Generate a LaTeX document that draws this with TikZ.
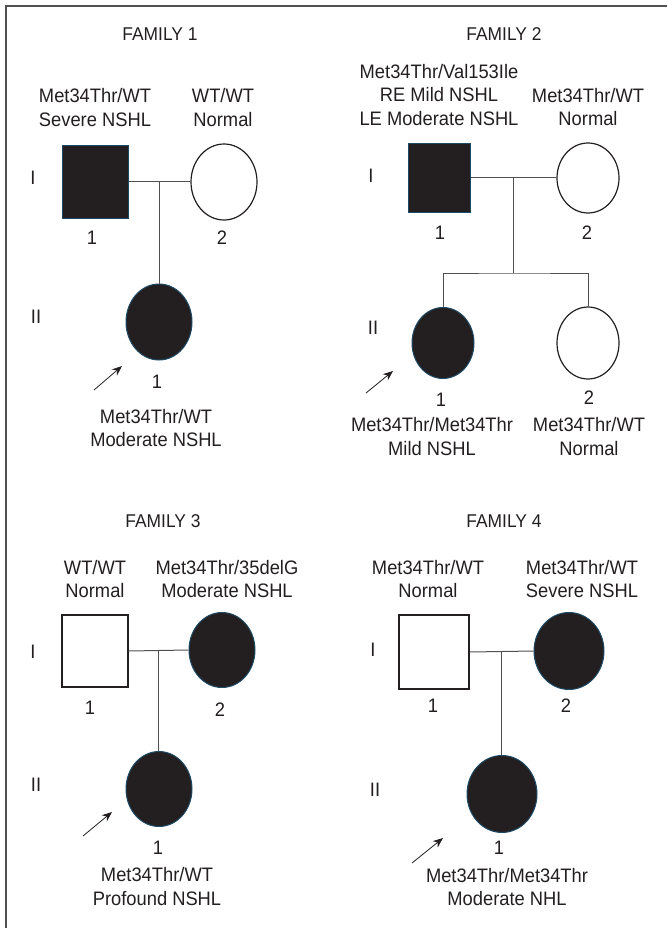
\documentclass[tikz,border=0pt]{standalone}
\usepackage{fontspec}
\setmainfont{Liberation Sans}[FakeStretch=0.94]
\usetikzlibrary{shapes.geometric,arrows.meta,calc}
\definecolor{txt}{HTML}{231F20}
\definecolor{fillc}{HTML}{231F20}
\definecolor{edgeb}{HTML}{1F4A66}
\definecolor{linec}{HTML}{505050}
\begin{document}
\begin{tikzpicture}[x=1pt,y=-1pt,
  lbl/.style={font=\fontsize{19.5}{23.5}\selectfont, align=center, inner sep=0pt, text=txt},
  ttl/.style={font=\fontsize{18.5}{21}\selectfont, inner sep=0pt, text=txt},
  affsq/.style={rectangle, fill=fillc, draw=edgeb, line width=1pt, inner sep=0pt},
  unsq/.style={rectangle, draw=txt, line width=1.2pt, inner sep=0pt},
  affci/.style={ellipse, fill=fillc, draw=edgeb, line width=1pt, inner sep=0pt},
  unci/.style={ellipse, draw=txt, line width=1.2pt, inner sep=0pt},
  rel/.style={draw=linec, line width=1pt},
  prob/.style={draw=txt, line width=0.8pt, -{Stealth[length=10pt,width=8pt]}},
  frm/.style={draw=linec, line width=1.5pt}]
\useasboundingbox (0,0) rectangle (667,928);
% frame
\coordinate (fA) at (6,928);
\coordinate (fB) at (6,6);
\coordinate (fC) at (667,6);
\draw[frm] (fA) -- (fB) -- (fC);

% ================= FAMILY 1 =================
\node[ttl] (t1) at (160,34) {FAMILY 1};
\node[lbl] (g1a) at (95,107.5) {Met34Thr/WT\\Severe NSHL};
\node[lbl] (g1b) at (223,107.5) {WT/WT\\Normal};
\node[affsq, minimum width=66pt, minimum height=72pt] (f1a) at (95,182) {};
\node[unci, minimum width=66pt, minimum height=76pt] (f1b) at (224,182) {};
\node[lbl] (r1a) at (33,178) {I};
\node[lbl] (r1b) at (36,317) {II};
\node[lbl] (n1a) at (92,238) {1};
\node[lbl] (n1b) at (222,238) {2};
\node[affci, minimum width=66pt, minimum height=76pt] (f1c) at (159,322) {};
\node[lbl] (n1c) at (157,382) {1};
\node[lbl] (g1c) at (156,428) {Met34Thr/WT\\Moderate NSHL};
\draw[rel] (f1a.east) -- coordinate[pos=0.5] (m1) (f1b.west);
\draw[rel] (m1) -- (m1 |- f1c.north);
\coordinate (a1) at (94,390);
\draw[prob] (a1) -- ($(f1c.center)+(-37,44)$);

% ================= FAMILY 2 =================
\node[ttl] (t2) at (504,34) {FAMILY 2};
\node[lbl] (g2a) at (439,95) {Met34Thr/Val153Ile\\RE Mild NSHL\\LE Moderate NSHL};
\node[lbl] (g2b) at (588,107) {Met34Thr/WT\\Normal};
\node[affsq, minimum width=62pt, minimum height=68pt] (f2a) at (439,178) {};
\node[unci, minimum width=62pt, minimum height=70pt] (f2b) at (588,178) {};
\node[lbl] (r2a) at (371,176) {I};
\node[lbl] (r2b) at (373,328) {II};
\node[lbl] (n2a) at (440,233) {1};
\node[lbl] (n2b) at (587,233) {2};
\node[affci, minimum width=62pt, minimum height=71pt] (f2c) at (443,343) {};
\node[unci, minimum width=62pt, minimum height=72pt] (f2d) at (588,343) {};
\node[lbl] (n2c) at (441,400) {1};
\node[lbl] (n2d) at (589,398) {2};
\node[lbl] (g2c) at (432,436.5) {Met34Thr/Met34Thr\\Mild NSHL};
\node[lbl] (g2d) at (589,436.5) {Met34Thr/WT\\Normal};
\draw[rel] (f2a.east) -- coordinate[pos=0.5] (m2) (f2b.west);
\coordinate (s2) at ($(m2)+(0,95)$);
\draw[rel] (m2) -- (s2);
\draw[rel] (f2c.north) |- (s2) -| (f2d.north);
\coordinate (a2) at (366,393);
\draw[prob] (a2) -- ($(f2c.center)+(-50,28)$);

% ================= FAMILY 3 =================
\node[ttl] (t3) at (163,521) {FAMILY 3};
\node[lbl] (g3a) at (95,579) {WT/WT\\Normal};
\node[lbl] (g3b) at (227,579) {Met34Thr/35delG\\Moderate NSHL};
\node[unsq, minimum width=66pt, minimum height=72pt] (f3a) at (95,651) {};
\node[affci, minimum width=66pt, minimum height=75pt] (f3b) at (222,650) {};
\node[lbl] (r3a) at (33,652) {I};
\node[lbl] (r3b) at (36,785) {II};
\node[lbl] (n3a) at (90,708) {1};
\node[lbl] (n3b) at (220,710) {2};
\node[affci, minimum width=66pt, minimum height=75pt] (f3c) at (159,789) {};
\node[lbl] (n3c) at (158,848) {1};
\node[lbl] (g3c) at (157,886.5) {Met34Thr/WT\\Profound NSHL};
\draw[rel] (f3a.east) -- coordinate[pos=0.5] (m3) (f3b.west);
\draw[rel] (m3) -- (m3 |- f3c.north);
\coordinate (a3) at (83,836);
\draw[prob] (a3) -- ($(f3c.center)+(-47,23)$);

% ================= FAMILY 4 =================
\node[ttl] (t4) at (504,521) {FAMILY 4};
\node[lbl] (g4a) at (428,579) {Met34Thr/WT\\Normal};
\node[lbl] (g4b) at (582,579) {Met34Thr/WT\\Severe NSHL};
\node[unsq, minimum width=70pt, minimum height=74pt] (f4a) at (434,652) {};
\node[affci, minimum width=70pt, minimum height=77pt] (f4b) at (569,651) {};
\node[lbl] (r4a) at (373,650) {I};
\node[lbl] (r4b) at (375,790) {II};
\node[lbl] (n4a) at (433,706) {1};
\node[lbl] (n4b) at (566,706) {2};
\node[affci, minimum width=70pt, minimum height=77pt] (f4c) at (502,794) {};
\node[lbl] (n4c) at (499,848) {1};
\node[lbl] (g4c) at (507,887) {Met34Thr/Met34Thr\\Moderate NHL};
\draw[rel] (f4a.east) -- coordinate[pos=0.5] (m4) (f4b.west);
\draw[rel] (m4) -- (m4 |- f4c.north);
\coordinate (a4) at (412,863);
\draw[prob] (a4) -- ($(f4c.center)+(-59,44)$);
\end{tikzpicture}
\end{document}
